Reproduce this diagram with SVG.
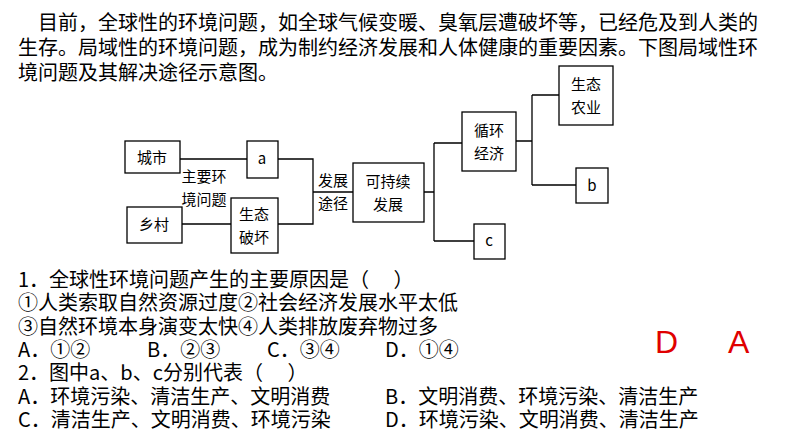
<svg xmlns="http://www.w3.org/2000/svg" width="794" height="447" viewBox="0 0 794 447">
<style>
.t{font-family:"Noto Sans CJK SC","Liberation Sans",sans-serif;font-size:20px;fill:#000}
.n{font-family:"Noto Sans CJK SC","Liberation Sans",sans-serif;font-size:15px;fill:#000;text-anchor:middle}
.b{fill:#fff;stroke:#000;stroke-width:1.3}
.c{fill:none;stroke:#000;stroke-width:1.3}
.r{font-family:"Liberation Sans",sans-serif;font-size:32px;fill:#e00000}
</style>
<rect width="794" height="447" fill="#fff"/>
<text class="t" x="38" y="30">目前，全球性的环境问题，如全球气候变暖、臭氧层遭破坏等，已经危及到人类的</text>
<text class="t" x="18" y="55">生存。局域性的环境问题，成为制约经济发展和人体健康的重要因素。下图局域性环</text>
<text class="t" x="18" y="80">境问题及其解决途径示意图。</text>
<g id="connectors">
<path class="c" d="M180,159H247M278,159H313V224H278M182,224H231M313,192H353M424,192H434M434,143V241M434,143H462M434,241H474M516,141H532M532,95V185M532,95H559M532,185H576"/>
</g>
<g id="city"><rect class="b" x="125" y="141" width="55" height="32"/><text class="n" x="152" y="163">城市</text></g>
<g id="a"><rect class="b" x="247" y="141" width="31" height="37"/><text class="n" x="262" y="164">a</text></g>
<g id="village"><rect class="b" x="127" y="207" width="55" height="36"/><text class="n" x="154" y="230">乡村</text></g>
<g id="eco"><rect class="b" x="231" y="198" width="47" height="55"/><text class="n" x="254" y="220">生态</text><text class="n" x="254" y="243">破坏</text></g>
<g id="label1"><text class="n" x="204" y="182">主要环</text><text class="n" x="204" y="205">境问题</text></g>
<g id="label2"><text class="n" x="333" y="186">发展</text><text class="n" x="333" y="209">途径</text></g>
<g id="sustain"><rect class="b" x="353" y="163" width="71" height="59"/><text class="n" x="388" y="187">可持续</text><text class="n" x="388" y="210">发展</text></g>
<g id="cycle"><rect class="b" x="462" y="112" width="54" height="59"/><text class="n" x="489" y="136">循环</text><text class="n" x="489" y="159">经济</text></g>
<g id="c"><rect class="b" x="474" y="224" width="31" height="35"/><text class="n" x="489" y="246">c</text></g>
<g id="agri"><rect class="b" x="559" y="66" width="54" height="59"/><text class="n" x="586" y="90">生态</text><text class="n" x="586" y="113">农业</text></g>
<g id="b"><rect class="b" x="576" y="168" width="32" height="35"/><text class="n" x="592" y="191">b</text></g>
<text class="t" x="18" y="287">1．全球性环境问题产生的主要原因是（　 ）</text>
<text class="t" x="18" y="310">①人类索取自然资源过度②社会经济发展水平太低</text>
<text class="t" x="18" y="334">③自然环境本身演变太快④人类排放废弃物过多</text>
<text class="t" x="18" y="357">A．①②</text><text class="t" x="147" y="357">B．②③</text><text class="t" x="267" y="357">C．③④</text><text class="t" x="385" y="357">D．①④</text>
<text class="t" x="18" y="380">2．图中a、b、c分别代表（　 ）</text>
<text class="t" x="18" y="404">A．环境污染、清洁生产、文明消费</text><text class="t" x="385" y="404">B．文明消费、环境污染、清洁生产</text>
<text class="t" x="18" y="427">C．清洁生产、文明消费、环境污染</text><text class="t" x="385" y="427">D．环境污染、文明消费、清洁生产</text>
<text class="r" x="655" y="353">D</text><text class="r" x="728" y="353">A</text>
</svg>
